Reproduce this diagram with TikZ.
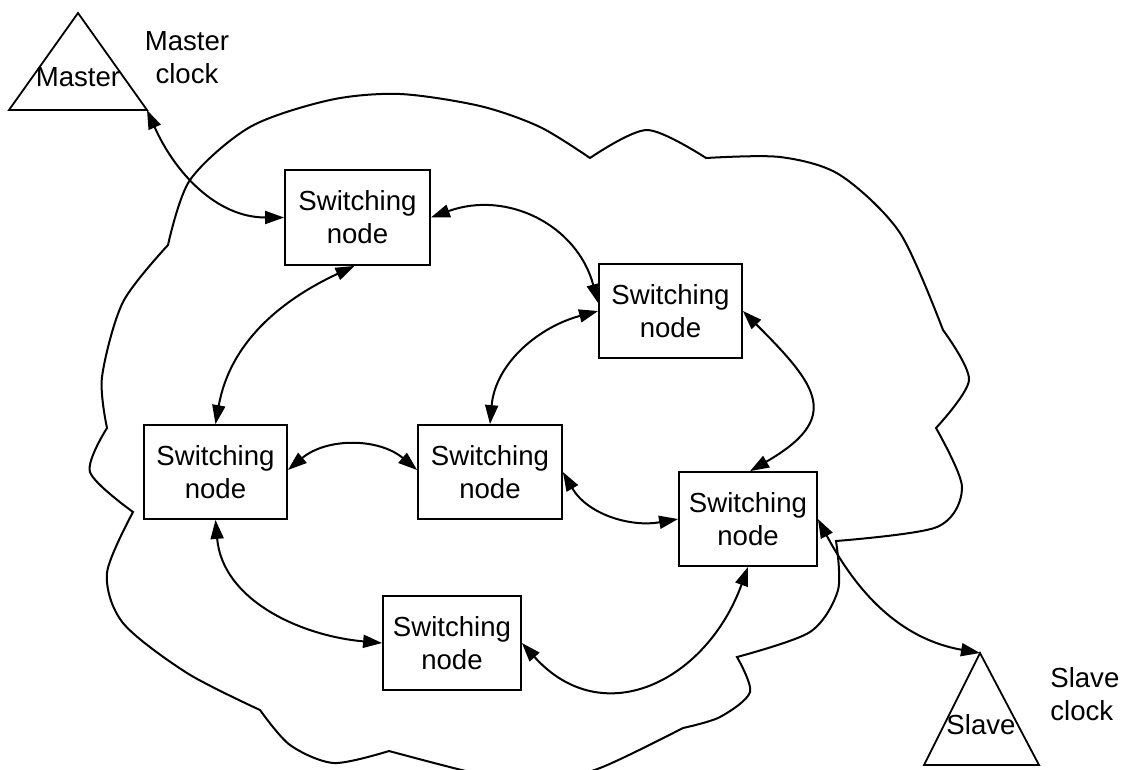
\documentclass[tikz,border=0pt]{standalone}
\usepackage{fontspec}
\setmainfont{Liberation Sans}
\usetikzlibrary{arrows.meta}
\begin{document}
\begin{tikzpicture}[x=1pt,y=-1pt,line width=2pt,line join=miter,
  every node/.style={font=\fontsize{27.6pt}{33pt}\selectfont},
  swnode/.style={draw,fill=white,align=center,inner sep=0pt,
    minimum width=144pt,minimum height=94pt,line width=1.8pt},
  link/.style={{Triangle[length=19pt,width=13pt]}-{Triangle[length=19pt,width=13pt]},line width=2pt},
  clockshape/.style={draw,line width=1.8pt},
  cloudline/.style={line width=2pt}]
\useasboundingbox (0,0) rectangle (1121,769);
\clip (0,0) rectangle (1121,769);

% network cloud
\draw[cloudline]
  plot[smooth] coordinates {(168,245) (190,180) (250,127) (330,100) (400,94) (480,106) (540,127) (590,158)}
  -- plot[smooth] coordinates {(590,158) (647,130) (706,158)}
  -- plot[smooth] coordinates {(706,158) (780,157) (840,175) (900,233) (943,330)}
  -- plot[smooth] coordinates {(943,330) (969,380) (936,428)}
  -- plot[smooth] coordinates {(936,428) (962,487) (937,527) (836,541)}
  -- plot[smooth] coordinates {(836,541) (838,590) (810,632) (737,657)}
  -- plot[smooth] coordinates {(737,657) (750,692) (720,717) (683,728)}
  -- plot[smooth] coordinates {(683,728) (600,768) (535,784) (470,772) (389,751)}
  -- plot[smooth] coordinates {(389,751) (334,763) (290,745) (260,710)}
  -- plot[smooth] coordinates {(260,710) (187,673) (123,623) (107,573) (133,512)}
  -- plot[smooth] coordinates {(133,512) (90,472) (107,428)}
  -- plot[smooth] coordinates {(107,428) (102,377) (123,302) (168,245)}
  -- cycle;

% master clock
\coordinate (ma) at (78,13);
\coordinate (ml) at (9,110);
\coordinate (mr) at (147,110);
\draw[clockshape] (ma) -- (ml) -- (mr) -- cycle;
\node (mtext) at (78,77) {Master};
\node[align=center] (mclk) at (187,58) {Master\\clock};

% slave clock
\coordinate (sa) at (980,653);
\coordinate (sl) at (924,765);
\coordinate (sr) at (1039,765);
\draw[clockshape] (sa) -- (sl) -- (sr) -- cycle;
\node (stext) at (981,725) {Slave};
\node[align=left,anchor=west] (sclk) at (1046,694) {Slave\\clock};

% switching nodes
\node[swnode,minimum width=145pt,minimum height=95pt] (n1) at (357.5,217.5) {Switching\\node};
\node[swnode,minimum width=143pt] (n2) at (670.5,311) {Switching\\node};
\node[swnode,minimum width=143pt] (n3) at (215.5,472) {Switching\\node};
\node[swnode] (n4) at (490,472) {Switching\\node};
\node[swnode,minimum width=138pt] (n5) at (748,519) {Switching\\node};
\node[swnode,minimum width=138pt] (n6) at (452,643) {Switching\\node};

% links
\draw[link] (mr) to[out=-66,in=180] (n1.west);
\draw[link] (n1.east) to[out=20,in=105,looseness=1.1] ([yshift=8pt]n2.west);
\draw[link] ([xshift=-3pt]n1.south) to[out=205,in=80] (n3.north);
\draw[link] (n2.west) to[out=195,in=85] (n4.north);
\draw[link] (n2.east) to[out=-45,in=30,looseness=1.7] ([xshift=2pt]n5.north);
\draw[link] ([yshift=2pt]n3.east) to[out=40,in=140] ([yshift=2pt]n4.west);
\draw[link] (n4.east) to[out=-60,in=190] (n5.west);
\draw[link] (n3.south) to[out=-85,in=175] (n6.west);
\draw[link] (n6.east) to[out=-48,in=-110,looseness=1.3] (n5.south);
\draw[link] (n5.east) to[out=-62,in=170] (sa);
\end{tikzpicture}
\end{document}
